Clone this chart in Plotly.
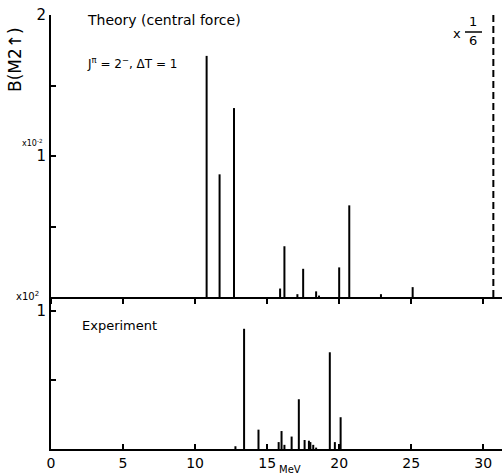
import plotly.graph_objects as go

# Theory (central force), J^pi = 2-, dT = 1  -- energies (MeV) and B(M2) (x10^-2)
theory_E = [10.8, 11.7, 12.7, 15.9, 16.2, 17.1, 17.5, 18.4, 18.6, 20.0, 20.7, 22.9, 25.1]
theory_B = [1.71, 0.87, 1.34, 0.06, 0.36, 0.02, 0.20, 0.04, 0.01, 0.21, 0.65, 0.02, 0.07]
# scaled (x 1/6) dashed state
dashed_E = [30.7]
dashed_B = [2.0]
# Experiment -- energies (MeV) and B(M2) (x10^2)
exp_E = [12.8, 13.4, 14.4, 15.8, 16.0, 16.2, 16.7, 17.2, 17.6, 17.9, 18.0, 18.2, 18.4, 19.35, 19.7, 20.1]
exp_B = [0.02, 0.87, 0.14, 0.05, 0.13, 0.03, 0.09, 0.36, 0.065, 0.06, 0.05, 0.03, 0.01, 0.70, 0.05, 0.23]

x_ticks = [0, 5, 10, 15, 20, 25, 30]
x_labels = ["0", "5", "10", "15", "20", "25", "30"]


def spikes(E, B):
    xs, ys = [], []
    for e, b in zip(E, B):
        xs += [e, e, None]
        ys += [0, b, None]
    return xs, ys


FONT = "DejaVu Sans"
fig = go.Figure()

tx, ty = spikes(theory_E, theory_B)
fig.add_trace(go.Scatter(x=tx, y=ty, mode="lines", line=dict(color="black", width=2),
                         xaxis="x2", yaxis="y2", showlegend=False, hoverinfo="skip"))
dx, dy = spikes(dashed_E, dashed_B)
fig.add_trace(go.Scatter(x=dx, y=dy, mode="lines", line=dict(color="black", width=2, dash="7px,4px"),
                         xaxis="x2", yaxis="y2", showlegend=False, hoverinfo="skip"))
ex, ey = spikes(exp_E, exp_B)
fig.add_trace(go.Scatter(x=ex, y=ey, mode="lines", line=dict(color="black", width=2),
                         xaxis="x", yaxis="y", showlegend=False, hoverinfo="skip"))

split = (449 - 297) / 434

axis_common = dict(showgrid=False, zeroline=False, showline=True, linecolor="black", linewidth=2,
                   ticks="inside", tickcolor="black", tickwidth=2, automargin=False)

fig.update_layout(
    width=502, height=476,
    margin=dict(l=51, r=0, t=15, b=27),
    paper_bgcolor="white", plot_bgcolor="white",
    font=dict(family=FONT, color="black"),
    xaxis=dict(domain=[0, 1], range=[0, 31.3], tickvals=x_ticks, ticktext=x_labels,
               ticklen=5, tickfont=dict(size=14, family=FONT), anchor="y", **axis_common),
    yaxis=dict(domain=[0, split], range=[0, 1.10], tickvals=[0.5, 1.0], ticktext=["", "1"],
               ticklen=5, tickfont=dict(size=15, family=FONT), anchor="x", **axis_common),
    xaxis2=dict(domain=[0, 1], range=[0, 31.3], tickvals=x_ticks, ticktext=[""] * 7,
                ticklen=5, anchor="y2", matches="x", **{**axis_common, "ticks": "outside"}),
    yaxis2=dict(domain=[split, 1], range=[0, 2.0], tickvals=[0.5, 1.0, 1.5, 2.0],
                ticktext=["", "1", "", "2"], ticklen=5, tickfont=dict(size=15, family=FONT),
                anchor="x2", **axis_common),
)


def py(p):
    return (449 - p) / 434


def px(p):
    return (p - 51) / 451


ann = [
    dict(text="Theory (central force)", x=px(85), y=py(20), xref="paper", yref="paper",
         xanchor="left", yanchor="middle", showarrow=False, font=dict(size=14)),
    dict(text="J<sup>π</sup> = 2<sup>−</sup>, ΔT = 1", x=px(85), y=py(63), xref="paper", yref="paper",
         xanchor="left", yanchor="middle", showarrow=False, font=dict(size=12)),
    dict(text="Experiment", x=px(80), y=py(325), xref="paper", yref="paper",
         xanchor="left", yanchor="middle", showarrow=False, font=dict(size=13)),
    dict(text="x", x=px(457), y=py(33), xref="paper", yref="paper",
         xanchor="center", yanchor="middle", showarrow=False, font=dict(size=13)),
    dict(text="1", x=px(473), y=py(22), xref="paper", yref="paper",
         xanchor="center", yanchor="middle", showarrow=False, font=dict(size=13)),
    dict(text="6", x=px(473), y=py(41), xref="paper", yref="paper",
         xanchor="center", yanchor="middle", showarrow=False, font=dict(size=13)),
    dict(text="x10<sup>-2</sup>", x=px(32), y=py(143), xref="paper", yref="paper",
         xanchor="center", yanchor="middle", showarrow=False, font=dict(size=8)),
    dict(text="x10<sup>2</sup>", x=px(27), y=py(296), xref="paper", yref="paper",
         xanchor="center", yanchor="middle", showarrow=False, font=dict(size=10)),
    dict(text="B(M2↑)", x=px(15), y=py(60), xref="paper", yref="paper", textangle=-90,
         xanchor="center", yanchor="middle", showarrow=False, font=dict(size=17)),
    dict(text="MeV", x=16.6, y=py(469), xref="x", yref="paper",
         xanchor="center", yanchor="middle", showarrow=False, font=dict(size=10)),
]
fig.update_layout(annotations=ann)
fig.add_shape(type="line", xref="paper", yref="paper", x0=px(465), x1=px(482), y0=py(32), y1=py(32),
              line=dict(color="black", width=1.5))

fig.write_html("out.html", post_script="document.body.style.margin='0';",
               config={"displayModeBar": False})
